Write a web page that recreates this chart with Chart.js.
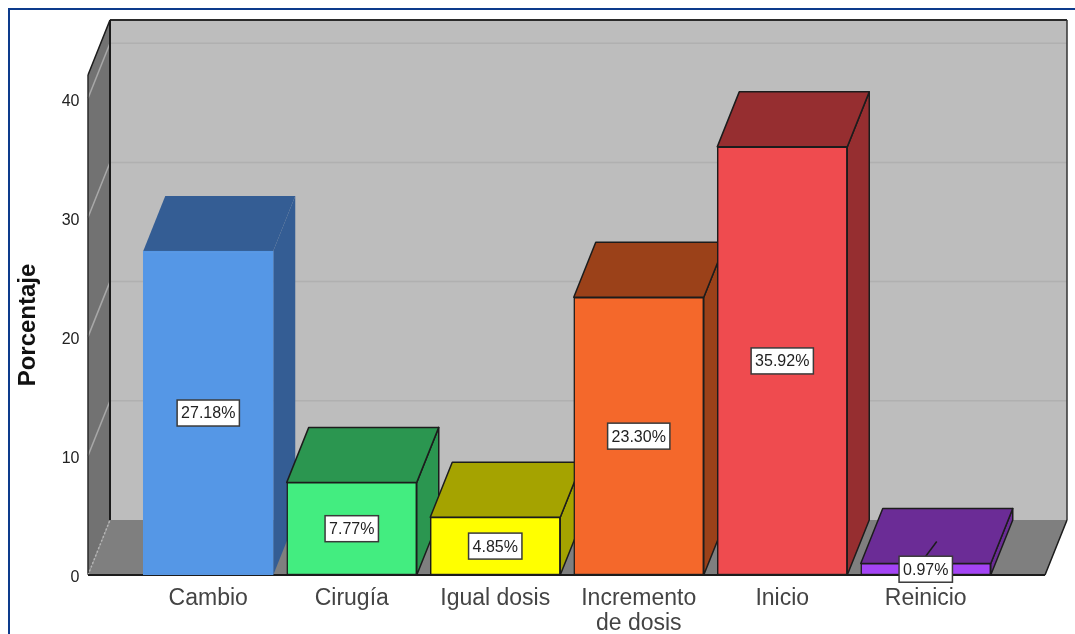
<!DOCTYPE html>
<html lang="es">
<head>
<meta charset="utf-8">
<title>Porcentaje por motivo</title>
<script src="https://cdn.jsdelivr.net/npm/chart.js@4"></script>
<style>
  html, body { margin: 0; background: #fff; overflow: hidden; }
  #marco { position: absolute; left: 8px; top: 8px; right: 0; bottom: 0; border-top: 2px solid #0d3b8c; border-left: 2px solid #0d3b8c; }
  canvas { position: absolute; left: 0; top: 0; }
</style>
</head>
<body>
<div id="marco"></div>
<canvas id="myChart" width="1075" height="634"></canvas>
<script>
const categorias = ['Cambio', 'Cirugía', 'Igual dosis', ['Incremento', 'de dosis'], 'Inicio', 'Reinicio'];
const porcentajes = [27.18, 7.77, 4.85, 23.30, 35.92, 0.97];
const yTicks = [0, 10, 20, 30, 40];

// colores de cada barra: cara frontal, cara superior/lateral y contorno
const colorFrente = ['#5597e6', '#43ed80', '#ffff00', '#f4682b', '#ef4b4f', '#a444f5'];
const colorTapa = ['#345d94', '#2b9650', '#a5a300', '#9b4119', '#962e30', '#6b2c96'];
const colorBorde = ['#5597e6', '#1c1c1c', '#1c1c1c', '#1c1c1c', '#1c1c1c', '#1c1c1c'];

const profX = 22;   // profundidad de la caja 3D
const profY = 55;
const margenPared = 48.5;   // la caja sobresale del area de las categorias

function poligono(ctx, puntos, relleno, borde, grosor) {
    ctx.beginPath();
    puntos.forEach((p, i) => i === 0 ? ctx.moveTo(p[0], p[1]) : ctx.lineTo(p[0], p[1]));
    ctx.closePath();
    ctx.fillStyle = relleno;
    ctx.fill();
    if (borde) {
        ctx.strokeStyle = borde;
        ctx.lineWidth = grosor;
        ctx.lineJoin = 'round';
        ctx.stroke();
    }
}

function linea(ctx, x1, y1, x2, y2, color, grosor) {
    ctx.beginPath();
    ctx.moveTo(x1, y1);
    ctx.lineTo(x2, y2);
    ctx.strokeStyle = color;
    ctx.lineWidth = grosor;
    ctx.stroke();
}

// Paredes, suelo y caras 3D de las barras, por debajo de las caras frontales
const caja3D = {
    id: 'caja3D',
    beforeDatasetsDraw(chart) {
        const { ctx, chartArea, scales } = chart;
        const izq = chartArea.left - margenPared;
        const der = chartArea.right + margenPared - 1;
        const base = scales.y.getPixelForValue(0);
        const arriba = chartArea.top;

        ctx.save();
        // pared del fondo
        poligono(ctx, [[izq + profX, arriba - profY], [der + profX, arriba - profY], [der + profX, base - profY], [izq + profX, base - profY]], '#bdbdbd');
        // suelo
        poligono(ctx, [[izq, base], [izq + profX, base - profY], [der + profX, base - profY], [der, base]], '#7f7f7f');
        // pared izquierda
        poligono(ctx, [[izq, arriba], [izq + profX, arriba - profY], [izq + profX, base - profY], [izq, base]], '#727272');

        yTicks.slice(1).forEach((v) => {
            const y = scales.y.getPixelForValue(v);
            linea(ctx, izq + profX, y - profY, der + profX, y - profY, '#b0b0b0', 1.5);
            linea(ctx, izq, y, izq + profX, y - profY, '#a8a8a8', 1.5);
        });

        // bordes de la caja
        linea(ctx, izq, arriba, izq, base, '#2a2a2a', 1.5);
        linea(ctx, izq, arriba, izq + profX, arriba - profY, '#1c1c1c', 1.5);
        linea(ctx, izq + profX, arriba - profY, der + profX, arriba - profY, '#2a2a2a', 2);
        linea(ctx, izq + profX, arriba - profY, izq + profX, base - profY, '#1a1a1a', 2);
        linea(ctx, der + profX, arriba - profY, der + profX, base - profY, '#333', 1.5);
        linea(ctx, der, base, der + profX, base - profY, '#1c1c1c', 1.5);
        ctx.setLineDash([2, 2]);
        linea(ctx, izq, base, izq + profX, base - profY, '#b5b5b5', 1.5);
        ctx.setLineDash([]);
        linea(ctx, izq, base, der, base, '#1c1c1c', 2);

        // cara superior y lateral, de izquierda a derecha para que se solapen bien
        chart.getDatasetMeta(0).data.forEach((bar, i) => {
            const x1 = bar.x - bar.width / 2;
            const x2 = bar.x + bar.width / 2;
            const sinBorde = i === 0;
            const borde = sinBorde ? null : colorBorde[i];
            poligono(ctx, [[x2, bar.y], [x2 + profX, bar.y - profY], [x2 + profX, bar.base - profY], [x2, bar.base]], colorTapa[i], borde, 1.5);
            poligono(ctx, [[x1, bar.y], [x1 + profX, bar.y - profY], [x2 + profX, bar.y - profY], [x2, bar.y]], colorTapa[i], borde, 1.5);
        });
        ctx.restore();
    },
    afterDatasetsDraw(chart) {
        const { ctx } = chart;
        ctx.save();
        ctx.font = '16px "Liberation Sans", Arial, sans-serif';
        ctx.textAlign = 'center';
        ctx.textBaseline = 'middle';
        chart.getDatasetMeta(0).data.forEach((bar, i) => {
            const texto = porcentajes[i].toFixed(2) + '%';
            const medio = (bar.y + bar.base) / 2;
            const ancho = ctx.measureText(texto).width + 8;
            const alto = 26;
            // la etiqueta no cabe en la barra: linea guia hacia la cara superior
            if (bar.base - bar.y < alto) {
                linea(ctx, bar.x, medio - alto / 2, bar.x + 11, bar.y - 22, '#1c1c1c', 1.5);
            }
            ctx.fillStyle = '#fff';
            ctx.fillRect(bar.x - ancho / 2, medio - alto / 2, ancho, alto);
            ctx.strokeStyle = '#3a3a3a';
            ctx.lineWidth = 1.5;
            ctx.strokeRect(bar.x - ancho / 2, medio - alto / 2, ancho, alto);
            ctx.fillStyle = '#222';
            ctx.fillText(texto, bar.x, medio + 1);
        });
        ctx.restore();
    }
};

new Chart(document.getElementById('myChart'), {
    type: 'bar',
    plugins: [caja3D],
    data: {
        labels: categorias,
        datasets: [{
            label: 'Porcentaje',
            data: porcentajes,
            backgroundColor: colorFrente,
            borderColor: colorBorde,
            borderWidth: 1.5,
            borderSkipped: false,
            barThickness: 130
        }]
    },
    options: {
        responsive: false,
        animation: false,
        layout: { padding: { top: 75, right: 77.5, bottom: 0, left: 0 } },
        plugins: {
            legend: { display: false },
            tooltip: { enabled: false }
        },
        scales: {
            x: {
                grid: { display: false, drawTicks: false },
                border: { display: false },
                afterFit: (scale) => { scale.height = 59; },
                ticks: {
                    autoSkip: false,
                    maxRotation: 0,
                    padding: 12,
                    color: '#444',
                    font: { family: '"Liberation Sans", Arial, sans-serif', size: 23, lineHeight: 1.05 }
                }
            },
            y: {
                min: 0,
                max: 41.95,
                grid: { display: false, drawTicks: false },
                border: { display: false },
                // el padding grande de los ticks no debe recortar el alto del area
                afterFit: (scale) => {
                    scale.width = 136.5;
                    scale.paddingTop = 0;
                    scale.paddingBottom = 0;
                },
                afterBuildTicks: (scale) => { scale.ticks = yTicks.map((v) => ({ value: v })); },
                title: {
                    display: true,
                    text: 'Porcentaje',
                    color: '#111',
                    padding: { top: 14, bottom: 0 },
                    font: { family: '"Liberation Sans", Arial, sans-serif', size: 24, weight: 'bold' }
                },
                ticks: {
                    padding: 57,
                    labelOffset: 3,
                    color: '#222',
                    font: { family: '"Liberation Sans", Arial, sans-serif', size: 16 }
                }
            }
        }
    }
});
</script>
</body>
</html>
